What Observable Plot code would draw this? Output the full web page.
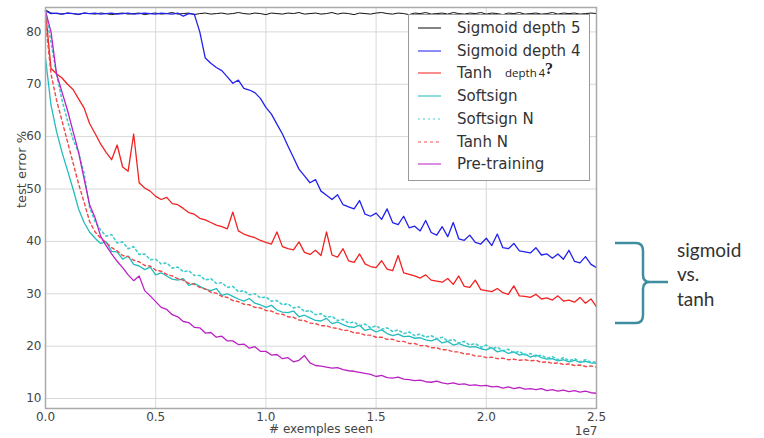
<!DOCTYPE html>
<html><head><meta charset="utf-8">
<script src="https://cdn.jsdelivr.net/npm/d3@7"></script>
<script src="https://cdn.jsdelivr.net/npm/@observablehq/plot@0.6"></script>
<style>
body{margin:0;background:#fff;}
#wrap{position:relative;width:764px;height:438px;font-family:"DejaVu Sans",sans-serif;overflow:hidden;}
#chart{position:absolute;left:0;top:0;}
#legend{position:absolute;left:408px;top:14px;width:182px;height:167px;border:1px solid #999;background:#fff;box-sizing:border-box;}
.row{position:absolute;left:0;height:20px;width:180px;}
.row svg{position:absolute;left:9px;top:0;}
.row span{position:absolute;left:48px;top:1px;font-size:15px;color:#333;white-space:nowrap;line-height:18px;}
#anno{position:absolute;left:505px;top:62px;color:#222;white-space:nowrap;}
#side{position:absolute;left:0;top:0;}
.side{position:absolute;left:677px;font-family:Lato,"Open Sans",sans-serif;font-size:19px;color:#333;line-height:22px;}
</style></head>
<body>
<div id="wrap">
  <div id="chart"></div>
  <div id="legend"></div>
  <div id="anno"><span style="font-family:'Open Sans',sans-serif;font-size:11.5px;">depth</span><span style="font-family:'Open Sans',sans-serif;font-size:11px;margin-left:2px;">4</span><span style="font-family:'Liberation Serif',serif;font-weight:bold;font-size:16px;position:relative;top:-3px;">?</span></div>
  <svg id="side" width="764" height="438">
    <path d="M615,243 L636,243 Q643,243 643,251 L643,275 Q643,282 650,282 L668,282 M650,282 Q643,282 643,289 L643,315 Q643,323 636,323 L615,323" fill="none" stroke="#3f8e9f" stroke-width="2.5"/>
  </svg>
  <div class="side" style="top:239px;">sigmoid</div>
  <div class="side" style="top:263px;">vs.</div>
  <div class="side" style="top:288px;">tanh</div>
</div>
<script>
// x positions: samples every 0.025e7 examples (units of 1e7), 101 samples
const xStep = 0.025;
const xs = d3.range(101).map(i => +(i * xStep).toFixed(3));
const xTicks = [0, 0.5, 1.0, 1.5, 2.0, 2.5];
const yTicks = [10, 20, 30, 40, 50, 60, 70, 80];

const seriesNames = ["Sigmoid depth 5", "Sigmoid depth 4", "Tanh", "Softsign", "Softsign N", "Tanh N", "Pre-training"];

const sigmoid5 = [
 84.2,83.6,83.5,83.4,83.6,83.5,83.3,83.6,83.5,83.4,
 83.6,83.5,83.3,83.5,83.6,83.4,83.5,83.6,83.3,83.5,
 83.6,83.4,83.5,83.7,83.4,83.5,83.6,83.3,83.5,83.6,
 83.4,83.5,83.6,83.4,83.5,83.7,83.5,83.4,83.6,83.5,
 83.3,83.6,83.5,83.4,83.6,83.5,83.7,83.4,83.5,83.6,
 83.4,83.5,83.7,83.4,83.6,83.5,83.3,83.6,83.5,83.4,
 83.6,83.7,83.5,83.4,83.6,83.5,83.3,83.6,83.5,83.7,
 83.4,83.5,83.6,83.4,83.7,83.5,83.4,83.6,83.5,83.7,
 83.4,83.6,83.5,83.3,83.6,83.5,83.7,83.4,83.5,83.6,
 83.4,83.5,83.7,83.4,83.6,83.5,83.6,83.4,83.5,83.6,
 83.5];

const sigmoid4 = [
 84.0,83.5,83.6,83.4,83.6,83.5,83.4,83.6,83.5,83.6,
 83.4,83.5,83.6,83.4,83.5,83.6,83.4,83.5,83.6,83.5,
 83.4,83.6,83.5,83.4,83.6,83.0,83.5,83.4,80.0,75.0,
 74.0,73.2,72.6,71.4,70.2,70.8,69.2,68.9,68.4,67.3,
 65.6,64.3,62.4,60.5,58.2,56.0,53.8,52.5,51.2,51.8,
 49.6,48.8,48.0,48.9,47.0,46.6,46.2,47.8,45.2,44.8,
 45.4,44.2,46.2,43.6,43.2,44.8,42.6,42.9,42.0,44.0,
 41.7,41.2,42.8,40.9,43.6,40.5,40.2,41.2,39.8,39.5,
 40.6,39.2,41.4,38.8,38.6,39.6,38.2,38.0,37.8,38.8,
 37.4,37.6,36.8,37.6,36.6,38.3,36.2,35.9,37.1,35.6,
 35.0];

const tanh = [
 84.0,73.0,72.0,71.2,70.0,69.0,67.2,65.5,62.5,60.6,
 58.6,57.0,55.6,58.4,54.2,53.4,60.5,51.2,50.2,49.6,
 48.6,48.0,48.4,47.2,47.0,46.3,45.5,45.2,44.4,44.1,
 43.6,43.1,42.8,42.4,45.6,42.0,41.4,41.0,40.7,40.2,
 39.8,39.5,41.8,39.0,38.6,38.4,39.9,37.9,37.5,38.3,
 37.3,41.8,37.4,37.0,38.6,36.3,36.0,37.6,35.7,35.2,
 35.0,36.3,34.7,34.4,37.3,34.0,33.7,33.4,33.0,33.6,
 32.6,32.4,32.2,32.9,31.8,33.4,31.4,31.2,32.6,30.8,
 30.6,30.4,31.0,30.2,29.9,31.5,29.6,29.5,29.3,29.9,
 29.0,29.2,28.8,29.6,28.6,28.8,28.4,29.3,28.2,29.0,
 27.5];

const softsign = [
 75.0,66.0,61.0,57.0,53.5,50.0,46.2,43.6,41.8,40.6,
 39.6,39.9,38.1,38.0,36.6,37.2,35.6,35.3,34.6,35.1,
 33.6,34.0,33.4,32.8,32.6,32.9,31.6,32.0,31.4,30.9,
 30.6,31.0,29.7,30.0,29.5,29.0,28.6,29.1,28.2,27.9,
 27.4,27.8,26.9,26.5,26.4,26.7,25.6,25.9,25.4,24.9,
 24.8,25.3,24.3,24.6,24.1,23.7,23.6,24.0,23.0,23.3,
 22.7,23.1,22.4,22.0,22.3,21.8,21.9,21.5,21.6,21.2,
 21.0,21.4,20.6,20.9,20.2,20.5,20.1,19.8,19.9,19.5,
 19.3,19.7,18.9,19.2,18.6,18.9,18.3,18.5,17.9,18.3,
 17.8,17.5,17.6,17.2,17.4,17.0,17.3,16.9,17.1,16.8,
 16.7];

const softsignN = [
 84.0,78.0,72.0,67.0,63.0,59.5,57.0,53.0,46.5,43.8,
 42.2,41.0,41.3,39.7,39.9,38.6,39.0,37.5,37.6,36.5,
 36.6,35.7,35.9,34.9,35.1,34.2,34.4,33.5,33.5,32.6,
 32.9,32.0,32.1,31.2,31.4,30.4,30.6,29.8,30.0,29.2,
 29.4,28.6,28.7,27.9,28.1,27.3,27.5,26.6,26.8,26.0,
 26.2,25.5,25.7,24.9,25.1,24.4,24.6,23.9,24.2,23.5,
 23.9,23.2,23.5,22.8,23.1,22.4,22.7,22.0,22.3,21.7,
 22.0,21.4,21.7,21.0,21.3,20.6,20.9,20.2,20.5,19.8,
 20.2,19.5,19.8,19.1,19.4,18.7,19.0,18.3,18.6,18.0,
 18.3,17.7,18.0,17.4,17.8,17.2,17.6,17.0,17.4,16.9,
 17.0];

const tanhN = [
 82.0,72.0,67.0,63.0,59.0,55.0,51.0,47.5,43.8,41.8,
 40.6,39.8,38.8,38.2,37.3,37.1,36.4,36.1,35.4,35.3,
 34.5,34.3,33.7,33.4,32.9,32.6,32.0,31.8,31.2,30.9,
 30.3,30.1,29.5,29.3,28.7,28.5,28.0,27.9,27.4,27.3,
 26.8,26.7,26.2,26.1,25.6,25.5,25.0,24.9,24.4,24.3,
 23.9,23.9,23.5,23.4,23.0,23.0,22.5,22.5,22.1,22.1,
 21.7,21.7,21.3,21.3,20.9,20.9,20.5,20.5,20.1,20.1,
 19.7,19.7,19.3,19.3,18.9,18.9,18.5,18.5,18.1,18.1,
 17.8,17.9,17.6,17.7,17.4,17.5,17.3,17.4,17.2,17.3,
 16.9,17.0,16.7,16.8,16.5,16.6,16.3,16.4,16.1,16.2,
 16.0];

const preTraining = [
 84.0,80.0,72.0,68.5,65.0,61.0,57.0,52.0,47.0,44.5,
 41.0,39.2,37.6,36.2,35.0,33.6,32.5,33.4,30.6,29.6,
 28.5,27.4,27.0,26.0,25.6,24.7,24.5,23.6,23.5,22.5,
 22.6,21.7,21.9,21.0,21.0,20.3,20.4,19.6,19.9,19.0,
 19.0,18.3,18.4,17.6,17.8,17.0,17.3,18.2,16.8,16.3,
 16.2,16.0,15.8,15.9,15.5,15.3,15.2,15.0,14.8,14.6,
 14.2,14.4,14.0,13.9,14.1,13.7,13.6,13.4,13.5,13.2,
 13.1,13.3,13.0,12.8,13.0,12.7,12.8,12.5,12.6,12.4,
 12.5,12.2,12.3,12.0,12.2,11.9,12.1,11.8,11.9,11.7,
 11.9,11.5,11.7,11.4,11.6,11.3,11.5,11.2,11.4,11.1,
 11.0];

const styles = [
  {values: sigmoid5,    stroke: "#111111", dash: null,  w: 1.0},
  {values: sigmoid4,    stroke: "#2222ee", dash: null,  w: 1.3},
  {values: tanh,        stroke: "#f22222", dash: null,  w: 1.3},
  {values: softsign,    stroke: "#22bcbc", dash: null,  w: 1.3},
  {values: softsignN,   stroke: "#40cccc", dash: "2,3", w: 1.6},
  {values: tanhN,       stroke: "#f04848", dash: "3,3", w: 1.4},
  {values: preTraining, stroke: "#bb22c4", dash: null,  w: 1.3}
];

const lineMarks = styles.map(s => Plot.line(s.values, {
  x: xs, y: d => d, stroke: s.stroke, strokeWidth: s.w,
  strokeDasharray: s.dash, strokeLinejoin: "round"
}));

const chart = Plot.plot({
  width: 764, height: 438,
  marginLeft: 45, marginRight: 168, marginTop: 7, marginBottom: 30,
  style: {fontFamily: "DejaVu Sans, sans-serif", fontSize: "12px", color: "#444", background: "transparent"},
  x: {domain: [0, 2.5]},
  y: {domain: [8.09, 84.66]},
  marks: [
    Plot.gridX(xTicks, {stroke: "#d8d8d8", strokeOpacity: 1}),
    Plot.gridY(yTicks, {stroke: "#d8d8d8", strokeOpacity: 1}),
    Plot.axisX(xTicks, {tickSize: 0, tickPadding: 4, tickFormat: d3.format(".1f"), label: null, fontSize: 12}),
    Plot.axisY(yTicks, {tickSize: 0, tickPadding: 4, label: null, fontSize: 12}),
    ...lineMarks,
    Plot.frame({stroke: "#aaa", strokeWidth: 1.5}),
    Plot.text(["test error %"], {frameAnchor: "left", dx: -24, rotate: -90, fontSize: 13, fill: "#444"}),
    Plot.text(["# exemples seen"], {frameAnchor: "bottom", dy: 24, fontSize: 12, fill: "#444"}),
    Plot.text(["1e7"], {frameAnchor: "bottom-right", dy: 26, dx: 1, textAnchor: "end", fontSize: 12, fill: "#444"})
  ]
});
document.getElementById("chart").appendChild(chart);

// legend
const legend = document.getElementById("legend");
styles.forEach((s, k) => {
  const row = document.createElement("div");
  row.className = "row";
  row.style.top = (3 + k * 22.7) + "px";
  const dash = s.dash ? `stroke-dasharray="${s.dash}"` : "";
  row.innerHTML = `<svg width="24" height="20"><line x1="0" x2="23" y1="10" y2="10" stroke="${s.stroke}" stroke-opacity="0.65" stroke-width="1.6" ${dash}/></svg><span>${seriesNames[k]}</span>`;
  legend.appendChild(row);
});
</script>
</body></html>
